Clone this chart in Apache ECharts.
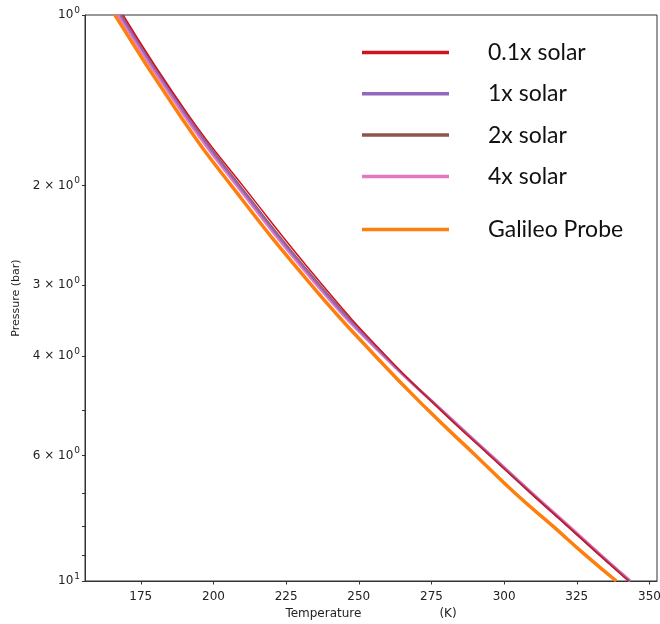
<!DOCTYPE html>
<html>
<head>
<meta charset="utf-8">
<script src="https://cdn.jsdelivr.net/npm/echarts@6/dist/echarts.min.js"></script>
<style>html,body{margin:0;padding:0;background:#fff}#c{width:660px;height:624px}</style>
</head>
<body>
<div id="c"></div>
<script>
// Pressure levels (bar)
const pressure = [1, 1.5, 2, 3, 4, 5, 6, 7, 8, 9, 10];
// Temperatures (K)
const tSolar01 = [168.9, 191.3, 210.0, 237.5, 259.3, 278.3, 295.0, 309.2, 321.8, 332.8, 342.8];
const tSolar1  = [167.9, 190.4, 208.6, 236.2, 258.8, 278.5, 295.2, 309.3, 321.9, 332.9, 343.0];
const tSolar2  = [168.2, 190.7, 209.0, 236.6, 259.0, 278.6, 295.3, 309.4, 322.0, 333.0, 343.1];
const tSolar4  = [167.3, 189.8, 208.0, 235.6, 258.5, 278.7, 295.5, 309.7, 322.3, 333.3, 343.4];
const tGalileo = [166.1, 188.3, 206.1, 233.7, 255.6, 274.0, 290.2, 303.8, 316.8, 328.0, 338.6];

const xTicks = [175, 200, 225, 250, 275, 300, 325, 350];
const yTickValues = [1, 2, 3, 4, 5, 6, 7, 8, 9, 10];
const yLabelValues = [1, 2, 3, 4, 6, 10];
const yLabelText = {1: '{b|10}{s|0}', 2: '{b|2 \u00d7 10}{s|0}', 3: '{b|3 \u00d7 10}{s|0}', 4: '{b|4 \u00d7 10}{s|0}', 6: '{b|6 \u00d7 10}{s|0}', 10: '{b|10}{s|1}'};

const names = ['0.1x solar', '1x solar', '2x solar', '4x solar', 'Galileo Probe'];
const colors = {'0.1x solar': '#d0121e', '1x solar': '#9467bd', '2x solar': '#8c564b', '4x solar': '#e377c2', 'Galileo Probe': '#ff7f0e'};

function pairs(t) { return t.map((v, i) => [v, pressure[i]]); }

function ser(name, t, w) {
  return { name: name, type: 'line', data: pairs(t), showSymbol: false, symbol: 'none', smooth: true,
    lineStyle: { color: colors[name], width: w }, itemStyle: { color: colors[name] }, silent: true, animation: false };
}

const chart = echarts.init(document.getElementById('c'), null, { renderer: 'canvas' });
const tickFont = { fontFamily: 'DejaVu Sans', fontSize: 12, color: '#222' };
const legendText = { fontFamily: 'Lato', fontSize: 23, color: '#111', padding: [0, 0, 0, 34] };

chart.setOption({
  animation: false,
  backgroundColor: '#fff',
  grid: { left: 85, right: 3, top: 15, bottom: 43, show: true, borderColor: '#333', borderWidth: 1, backgroundColor: 'transparent', containLabel: false, outerBoundsMode: 'none' },
  xAxis: {
    type: 'value', min: 155.8, max: 352.6,
    name: '{a|Temperature}{g|}{a|(K)}', nameLocation: 'middle', nameGap: 27,
    nameTextStyle: { rich: { a: { fontFamily: 'DejaVu Sans', fontSize: 12, color: '#222' }, g: { width: 78 } } },
    axisLine: { show: true, lineStyle: { color: '#333', width: 1 } },
    axisTick: { show: true, length: 3.5, customValues: xTicks, lineStyle: { color: '#333' } },
    axisLabel: Object.assign({ customValues: xTicks, margin: 10 }, tickFont),
    splitLine: { show: false }
  },
  yAxis: {
    type: 'log', logBase: 10, min: 1, max: 10, inverse: true,
    name: 'Pressure (bar)', nameLocation: 'middle', nameGap: 58, nameRotate: 90,
    nameTextStyle: { fontFamily: 'DejaVu Sans', fontSize: 11, color: '#222' },
    axisLine: { show: true, lineStyle: { color: '#333', width: 1 } },
    axisTick: { show: true, length: 3, customValues: yTickValues, lineStyle: { color: '#333' } },
    axisLabel: {
      customValues: yLabelValues, margin: 5, color: '#222',
      formatter: function (v) { return yLabelText[Math.round(v)] || ''; },
      rich: {
        b: { fontFamily: 'DejaVu Sans', fontSize: 12, color: '#222' },
        s: { fontFamily: 'DejaVu Sans', fontSize: 9, color: '#222', padding: [0, 0, 9, 1] }
      }
    },
    splitLine: { show: false }
  },
  legend: [
    { data: names.slice(0, 4), orient: 'vertical', left: 362, top: 41, padding: 0, itemWidth: 87, itemHeight: 3.5, itemGap: 18.3, icon: 'rect', textStyle: legendText, selectedMode: false },
    { data: names.slice(4), orient: 'vertical', left: 362, top: 218, padding: 0, itemWidth: 87, itemHeight: 3.5, icon: 'rect', textStyle: legendText, selectedMode: false }
  ],
  series: [
    ser('Galileo Probe', tGalileo, 3.5),
    ser('4x solar', tSolar4, 3),
    ser('2x solar', tSolar2, 2),
    ser('1x solar', tSolar1, 2),
    ser('0.1x solar', tSolar01, 1.5)
  ]
});
</script>
</body>
</html>
